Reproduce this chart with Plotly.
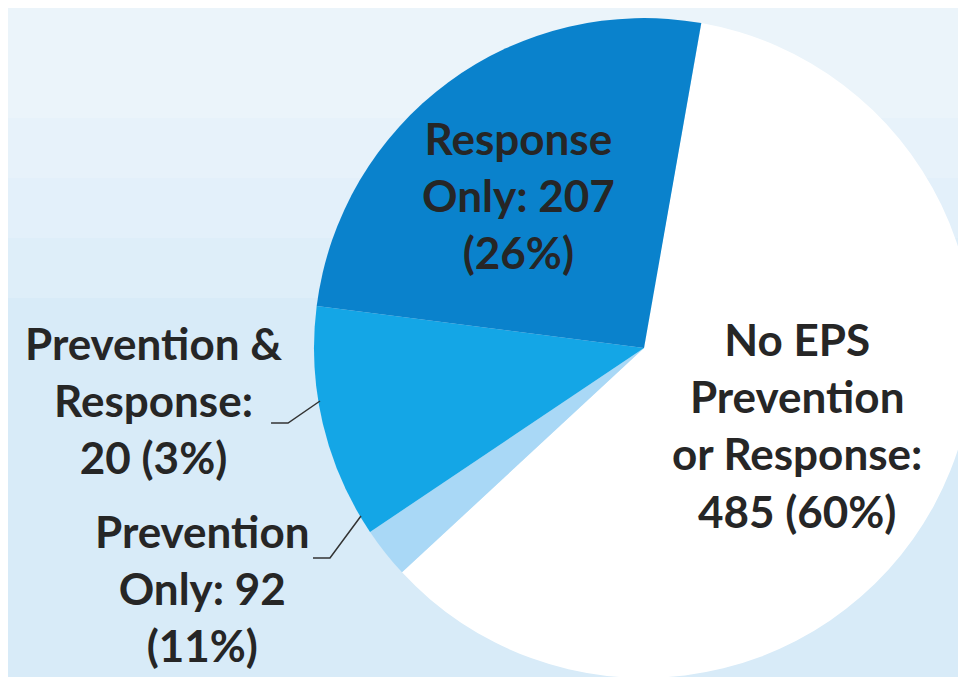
import plotly.graph_objects as go

# ---- data ----
categories = ["No EPS<br>Prevention<br>or Response", "Prevention &<br>Response",
              "Prevention<br>Only", "Response<br>Only"]
values = [485, 20, 92, 207]
percents = [60, 3, 11, 26]
value_sep = ["<br>", "<br>", " ", " "]
pct_sep = [" ", " ", "<br>", "<br>"]
colors = ["#ffffff", "#a9d8f6", "#14a6e6", "#0a82cc"]

W, H = 966, 677
def px(x):
    return x / W
def py(y):
    return 1 - y / H

label_text = [f"{c}:{s1}{v}{s2}({p}%)" for c, v, p, s1, s2 in
              zip(categories, values, percents, value_sep, pct_sep)]
label_pos = [(789, 417), (145, 392), (194, 580), (510, 187)]

fig = go.Figure(go.Pie(
    labels=[c.replace("<br>", " ") for c in categories],
    values=values,
    sort=False,
    direction="clockwise",
    rotation=10,
    marker=dict(colors=colors, line=dict(width=0)),
    textinfo="none",
    hoverinfo="label+value",
    showlegend=False,
    domain=dict(x=[px(306), px(966)], y=[py(670), py(10)]),
))

shapes = []
# soft background gradient
for h in [110, 170, 230, 290]:
    shapes.append(dict(type="rect", xref="paper", yref="paper", layer="below",
                       x0=0, x1=1, y0=py(h), y1=1, line=dict(width=0),
                       fillcolor="white", opacity=0.16))
# leader lines
for pts in [[(263, 415), (280, 415), (312, 393)], [(305, 550), (322, 550), (353, 508)]]:
    path = "M " + " L ".join(f"{px(x):.4f},{py(y):.4f}" for x, y in pts)
    shapes.append(dict(type="path", xref="paper", yref="paper", path=path,
                       line=dict(color="#333333", width=1.5)))

annotations = []
for t, (x, y) in zip(label_text, label_pos):
    annotations.append(dict(text=t, x=px(x), y=py(y), xref="paper", yref="paper",
                            xanchor="center", yanchor="middle", showarrow=False,
                            align="center",
                            font=dict(family="Lato", size=44, color="#262626", weight="bold")))

fig.update_layout(
    width=W, height=H,
    margin=dict(l=0, r=0, t=0, b=0),
    paper_bgcolor="#d8ebf8",
    plot_bgcolor="#d8ebf8",
    shapes=shapes,
    annotations=annotations,
)

fig.write_html("out.html")
